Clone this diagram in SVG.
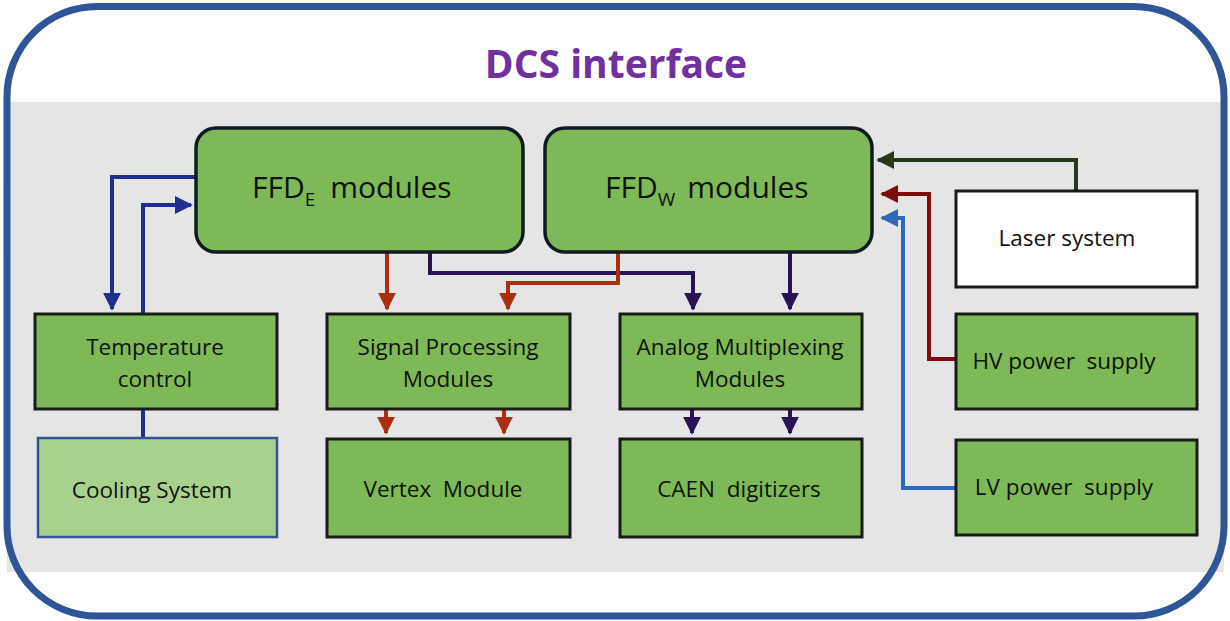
<svg xmlns="http://www.w3.org/2000/svg" width="1230" height="621" viewBox="0 0 1230 621">
<style>
.box{fill:#7dba57;stroke:#1a1a1a;stroke-width:3}
.rbox{fill:#7dba57;stroke:#111a22;stroke-width:3.5}
.lbl{font-family:"Open Sans","Liberation Sans",sans-serif;font-size:22.5px;fill:#111;text-anchor:middle;white-space:pre}
.big{font-family:"Open Sans","Liberation Sans",sans-serif;font-size:30px;fill:#111;white-space:pre}
.c{fill:none;stroke-width:4}
</style>
<defs>
<marker id="aNavy" viewBox="0 0 10 10" refX="9" refY="5" markerWidth="4.5" markerHeight="4.5" orient="auto" markerUnits="strokeWidth"><path d="M0,0L10,5L0,10z" fill="#1f2e8f"/></marker>
<marker id="aRed" viewBox="0 0 10 10" refX="9" refY="5" markerWidth="4.5" markerHeight="4.5" orient="auto" markerUnits="strokeWidth"><path d="M0,0L10,5L0,10z" fill="#a8300f"/></marker>
<marker id="aDRed" viewBox="0 0 10 10" refX="9" refY="5" markerWidth="4.5" markerHeight="4.5" orient="auto" markerUnits="strokeWidth"><path d="M0,0L10,5L0,10z" fill="#7e0c0c"/></marker>
<marker id="aPur" viewBox="0 0 10 10" refX="9" refY="5" markerWidth="4.5" markerHeight="4.5" orient="auto" markerUnits="strokeWidth"><path d="M0,0L10,5L0,10z" fill="#2b1256"/></marker>
<marker id="aGrn" viewBox="0 0 10 10" refX="9" refY="5" markerWidth="4.5" markerHeight="4.5" orient="auto" markerUnits="strokeWidth"><path d="M0,0L10,5L0,10z" fill="#25391b"/></marker>
<marker id="aBlu" viewBox="0 0 10 10" refX="9" refY="5" markerWidth="4.5" markerHeight="4.5" orient="auto" markerUnits="strokeWidth"><path d="M0,0L10,5L0,10z" fill="#2e68bb"/></marker>
</defs>
<rect x="0" y="0" width="1230" height="621" fill="#ffffff"/>
<rect x="7" y="102" width="1217" height="470" fill="#e5e5e5"/>
<rect x="7" y="6.5" width="1217" height="609.5" rx="90" fill="none" stroke="#2f5597" stroke-width="7"/>
<text x="616" y="78" text-anchor="middle" font-family="Open Sans, Liberation Sans, sans-serif" font-weight="bold" font-size="39" fill="#7030a0">DCS interface</text>

<g id="connectors">
<path class="c" stroke="#1f2e8f" d="M196,177H112V309" marker-end="url(#aNavy)"/>
<path class="c" stroke="#1f2e8f" d="M143,314V205H191" marker-end="url(#aNavy)"/>
<path class="c" stroke="#1f2e8f" d="M143,409V438"/>
<path class="c" stroke="#a8300f" d="M387,252V309" marker-end="url(#aRed)"/>
<path class="c" stroke="#2b1256" d="M430,252V273H693V309" marker-end="url(#aPur)"/>
<path class="c" stroke="#a8300f" d="M618,252V283H508V309" marker-end="url(#aRed)"/>
<path class="c" stroke="#2b1256" d="M790,252V309" marker-end="url(#aPur)"/>
<path class="c" stroke="#a8300f" d="M386,409V433" marker-end="url(#aRed)"/>
<path class="c" stroke="#a8300f" d="M504,409V433" marker-end="url(#aRed)"/>
<path class="c" stroke="#2b1256" d="M692,409V433" marker-end="url(#aPur)"/>
<path class="c" stroke="#2b1256" d="M790,409V433" marker-end="url(#aPur)"/>
<path class="c" stroke="#25391b" d="M1076,191V160H878" marker-end="url(#aGrn)"/>
<path class="c" stroke="#7e0c0c" d="M955,359H929V194H882" marker-end="url(#aDRed)"/>
<path class="c" stroke="#2e68bb" d="M955,488H903V218H882" marker-end="url(#aBlu)"/>
</g>

<g id="ffde">
<rect class="rbox" x="196" y="128" width="327" height="124" rx="20"/>
<text class="big" x="252" y="198">FFD<tspan font-size="19" dy="8">E</tspan><tspan dy="-8" dx="15">modules</tspan></text>
</g>
<g id="ffdw">
<rect class="rbox" x="545" y="128" width="327" height="124" rx="20"/>
<text class="big" x="605" y="198">FFD<tspan font-size="19" dy="8">W</tspan><tspan dy="-8" dx="12">modules</tspan></text>
</g>
<g id="temp">
<rect class="box" x="35" y="314" width="242" height="95"/>
<text class="lbl" x="155" y="355">Temperature</text>
<text class="lbl" x="155" y="387">control</text>
</g>
<g id="cooling">
<rect x="38" y="438" width="239" height="99" fill="#a9d18e" stroke="#2f5597" stroke-width="2.5"/>
<text class="lbl" x="152" y="498" font-size="25.5">Cooling System</text>
</g>
<g id="sigproc">
<rect class="box" x="327" y="314" width="243" height="95"/>
<text class="lbl" x="448" y="355">Signal Processing</text>
<text class="lbl" x="448" y="387">Modules</text>
</g>
<g id="vertex">
<rect class="box" x="327" y="439" width="243" height="98"/>
<text class="lbl" x="443" y="497">Vertex  Module</text>
</g>
<g id="analog">
<rect class="box" x="620" y="314" width="242" height="95"/>
<text class="lbl" x="740" y="355">Analog Multiplexing</text>
<text class="lbl" x="740" y="387">Modules</text>
</g>
<g id="caen">
<rect class="box" x="620" y="439" width="242" height="98"/>
<text class="lbl" x="739" y="497">CAEN  digitizers</text>
</g>
<g id="laser">
<rect x="956" y="191" width="241" height="96" fill="#ffffff" stroke="#1a1a1a" stroke-width="3"/>
<text class="lbl" x="1067" y="246">Laser system</text>
</g>
<g id="hv">
<rect class="box" x="956" y="314" width="241" height="95"/>
<text class="lbl" x="1064" y="369">HV power  supply</text>
</g>
<g id="lv">
<rect class="box" x="956" y="440" width="241" height="95"/>
<text class="lbl" x="1064" y="495">LV power  supply</text>
</g>
</svg>
